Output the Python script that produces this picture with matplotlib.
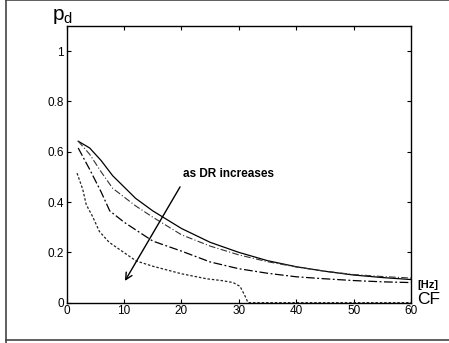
import matplotlib
matplotlib.use("Agg")
import matplotlib.pyplot as plt
from matplotlib.lines import Line2D

plt.rcParams['font.family'] = ['Liberation Sans', 'DejaVu Sans']

# CF [Hz] and p_d for the four curves
cf_1 = [2, 4, 6, 8, 10, 12, 15, 20, 25, 30, 35, 40, 45, 50, 55, 60]
pd_1 = [0.642, 0.615, 0.565, 0.505, 0.46, 0.415, 0.365, 0.295, 0.24, 0.20,
        0.167, 0.143, 0.125, 0.11, 0.10, 0.092]

cf_2 = [2, 4, 6, 8, 10, 12, 15, 20, 25, 30, 35, 40, 45, 50, 55, 60]
pd_2 = [0.642, 0.59, 0.52, 0.455, 0.42, 0.385, 0.34, 0.27, 0.225, 0.19,
        0.163, 0.142, 0.125, 0.112, 0.104, 0.098]

cf_3 = [2, 4, 6, 7.5, 10, 12, 15, 20, 25, 30, 35, 40, 45, 50, 55, 60]
pd_3 = [0.615, 0.53, 0.44, 0.365, 0.32, 0.29, 0.245, 0.205, 0.162, 0.135,
        0.117, 0.103, 0.095, 0.088, 0.083, 0.08]

cf_4 = [1.8, 2.8, 3.4, 4.5, 5.7, 7.4, 9.75, 12.1, 15, 20, 24.4, 27, 29, 30.2, 31, 31.6, 45, 60]
pd_4 = [0.515, 0.45, 0.39, 0.343, 0.283, 0.24, 0.203, 0.166, 0.145, 0.115,
        0.095, 0.088, 0.08, 0.065, 0.03, 0.0, 0.0, 0.0]

fig = plt.figure(figsize=(4.49, 3.43), dpi=100)
ax = fig.add_axes([0.1486, 0.1175, 0.9154 - 0.1486, 0.9242 - 0.1175])

ax.plot(cf_1, pd_1, color='black', lw=0.9, ls='-')
ax.plot(cf_2, pd_2, color='#333333', lw=0.8, ls=(0, (6, 2, 1, 2)))
ax.plot(cf_3, pd_3, color='black', lw=0.9, ls=(0, (7, 2, 1.5, 2)))
ax.plot(cf_4, pd_4, color='#222222', lw=0.9, ls=(0, (2, 1.5)))

ax.set_xlim(0, 60)
ax.set_ylim(0, 1.1)
ax.set_xticks([0, 10, 20, 30, 40, 50, 60])
ax.set_yticks([0, 0.2, 0.4, 0.6, 0.8, 1])
ax.set_yticklabels(['0', '0.2', '0.4', '0.6', '0.8', '1'])
ax.tick_params(direction='in', length=3, width=0.8, labelsize=8.5,
               top=True, right=True, pad=2)
for s in ax.spines.values():
    s.set_linewidth(1.0)

# annotation arrow
ax.annotate('', xy=(9.9, 0.077), xytext=(20.0, 0.47),
            arrowprops=dict(arrowstyle='->', color='black', lw=1.0,
                            mutation_scale=12))
ax.text(20.3, 0.51, 'as DR increases', fontsize=8.5, fontweight='bold',
        va='center', ha='left')

# axis labels
fig.text(63 / 449, 1 - 17 / 343, r'$\mathregular{p_d}$', fontsize=15,
         ha='center', va='center')
fig.text(417 / 449, 1 - 285 / 343, '[Hz]', fontsize=8, fontweight='bold',
         ha='left', va='center')
fig.text(417 / 449, 1 - 299 / 343, 'CF', fontsize=12.5, ha='left', va='center')

# figure frame
fig.add_artist(Line2D([6 / 449, 6 / 449], [0, 1], color='#444444', lw=1.2,
                      transform=fig.transFigure))
fig.add_artist(Line2D([6 / 449, 1], [1 - 340 / 343, 1 - 340 / 343],
                      color='#444444', lw=1.2, transform=fig.transFigure))
fig.add_artist(Line2D([6 / 449, 1], [0.999, 0.999], color='#444444', lw=1.2,
                      transform=fig.transFigure))

fig.savefig('out.png', dpi=100)
